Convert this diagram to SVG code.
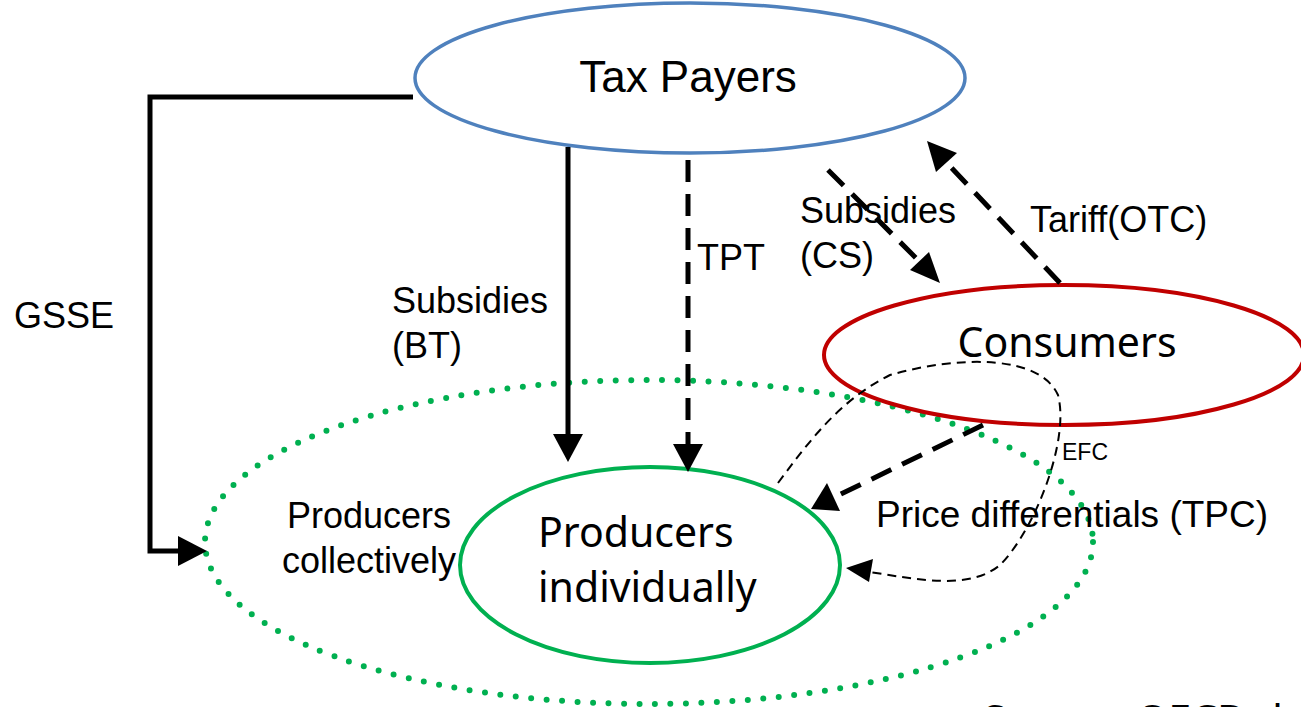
<svg xmlns="http://www.w3.org/2000/svg" width="1301" height="707" viewBox="0 0 1301 707">
<style>
.lbl{font-family:"Liberation Sans",Arial,sans-serif;font-size:36px;fill:#000}
.nlbl{font-family:"Noto Sans","Open Sans",sans-serif;font-size:41px;fill:#000}
.conn{fill:none;stroke:#000;stroke-width:5}
.dash{stroke-dasharray:22 12}
.head{fill:#000}
</style>
<rect width="1301" height="707" fill="#fff"/>
<g id="producers-collectively">
<ellipse cx="649" cy="542" rx="444" ry="162" fill="none" stroke="#00B050" stroke-width="6" stroke-linecap="round" stroke-dasharray="0 15.5"/>
<text class="lbl" x="287" y="528">Producers</text>
<text class="lbl" x="282" y="573">collectively</text>
</g>
<g id="tax-payers">
<ellipse cx="690" cy="78" rx="275" ry="75" fill="#fff" stroke="#4F81BD" stroke-width="3.5"/>
<text class="lbl" x="688" y="92" text-anchor="middle" style="font-size:44px">Tax Payers</text>
</g>
<g id="consumers">
<ellipse cx="1064" cy="355" rx="240" ry="70" fill="none" stroke="#C00000" stroke-width="4"/>
<text class="nlbl" x="1067" y="357" text-anchor="middle">Consumers</text>
</g>
<g id="producers-individually">
<ellipse cx="650" cy="565" rx="190" ry="98" fill="none" stroke="#00B050" stroke-width="4"/>
<text class="nlbl" x="538" y="547">Producers</text>
<text class="nlbl" x="538" y="602">individually</text>
</g>
<g id="connectors">
<path class="conn" d="M413,97 H150 V551 H180"/>
<path class="head" d="M178,536 L207,551 L178,566 z"/>
<path class="conn" d="M568,147 V436"/>
<path class="head" d="M553,434 L568,462 L583,434 z"/>
<path class="conn dash" d="M688,160 V446"/>
<path class="head" d="M673,444 L688,472 L703,444 z"/>
<path class="conn dash" d="M828,170 L922,264"/>
<path class="head" d="M910,270 L940,283 L929,252 z"/>
<path class="conn dash" d="M1060,283 L946,162"/>
<path class="head" d="M957,153 L927,141 L936,172 z"/>
<path class="conn dash" d="M983,425 L835,497"/>
<path class="head" d="M827,483 L811,509 L840,511 z"/>
<path fill="none" stroke="#000" stroke-width="2" stroke-dasharray="9 6" d="M778,483 C810,440 840,400 890,375 C960,355 1040,355 1058,395 C1070,440 1035,530 1000,565 C970,590 920,580 870,572"/>
<path class="head" d="M846,568 L873,559 L869,582 z"/>
</g>
<g id="labels">
<text class="lbl" x="14" y="328">GSSE</text>
<text class="lbl" x="392" y="313">Subsidies</text>
<text class="lbl" x="392" y="358">(BT)</text>
<text class="lbl" x="697" y="270">TPT</text>
<text class="lbl" x="800" y="223">Subsidies</text>
<text class="lbl" x="800" y="268">(CS)</text>
<text class="lbl" x="1030" y="232">Tariff(OTC)</text>
<text class="lbl" x="1062" y="460" style="font-size:23px">EFC</text>
<text class="lbl" x="876" y="527" style="font-size:37px">Price differentials (TPC)</text>
<text class="nlbl" x="983" y="735">Source: OECD th</text>
</g>
</svg>
